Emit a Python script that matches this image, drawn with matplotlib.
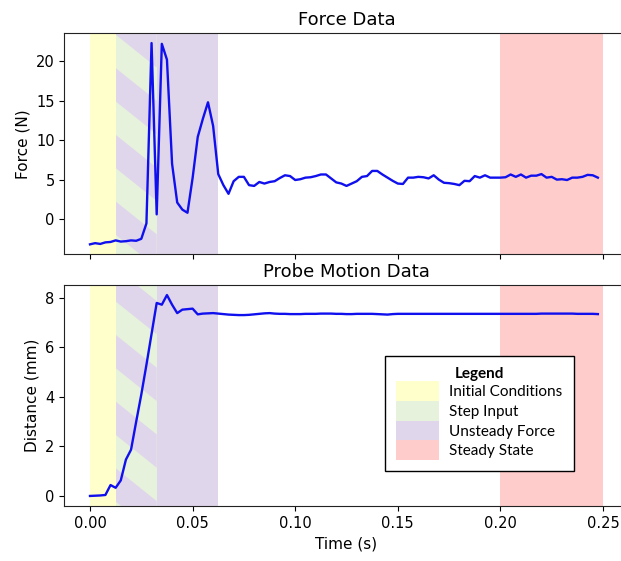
import numpy as np
import matplotlib
matplotlib.use("Agg")
import matplotlib.pyplot as plt
from matplotlib.patches import Patch, Polygon
from matplotlib.transforms import IdentityTransform

# ---------------- data ----------------
sample_interval = 0.0025  # s

force_n = [
    -3.2, -3.05, -3.15, -2.95, -2.9, -2.7, -2.85, -2.8, -2.7, -2.75,
    -2.5, -0.55, 22.3, 0.6, 22.2, 20.2, 7.0, 2.1, 1.2, 0.8,
    5.2, 10.4, 12.7, 14.8, 11.8, 5.7, 4.3, 3.2, 4.8, 5.35,
    5.35, 4.3, 4.2, 4.7, 4.5, 4.7, 4.8, 5.2, 5.55, 5.45,
    4.95, 5.05, 5.25, 5.3, 5.45, 5.65, 5.65, 5.15, 4.65, 4.5,
    4.2, 4.5, 4.8, 5.35, 5.45, 6.1, 6.1, 5.65, 5.25, 4.85,
    4.5, 4.45, 5.25, 5.25, 5.35, 5.3, 5.15, 5.55, 5.0, 4.6,
    4.55, 4.45, 4.3, 4.85, 4.8, 5.45, 5.25, 5.55, 5.25, 5.25,
    5.25, 5.3, 5.65, 5.35, 5.65, 5.25, 5.5, 5.5, 5.7, 5.25,
    5.35, 5.0, 5.05, 4.95, 5.25, 5.25, 5.35, 5.6, 5.55, 5.25,
]

distance_mm = [
    0.0, 0.01, 0.02, 0.04, 0.44, 0.33, 0.63, 1.47, 1.87, 3.0,
    4.1, 5.3, 6.55, 7.8, 7.73, 8.12, 7.73, 7.39, 7.53, 7.55,
    7.57, 7.34, 7.37, 7.38, 7.39, 7.37, 7.35, 7.33, 7.32, 7.31,
    7.31, 7.32, 7.34, 7.36, 7.38, 7.39, 7.37, 7.36, 7.36, 7.35,
    7.35, 7.35, 7.36, 7.36, 7.36, 7.37, 7.37, 7.37, 7.36, 7.36,
    7.35, 7.35, 7.36, 7.36, 7.36, 7.36, 7.35, 7.34, 7.33, 7.35,
    7.36, 7.36, 7.36, 7.36, 7.36, 7.36, 7.36, 7.36, 7.36, 7.36,
    7.36, 7.36, 7.36, 7.36, 7.36, 7.36, 7.36, 7.36, 7.36, 7.36,
    7.36, 7.36, 7.36, 7.36, 7.36, 7.36, 7.36, 7.36, 7.37, 7.37,
    7.37, 7.37, 7.37, 7.37, 7.37, 7.36, 7.36, 7.36, 7.36, 7.35,
]

time_s = np.arange(len(force_n)) * sample_interval

phase_names = ["Initial Conditions", "Step Input", "Unsteady Force", "Steady State"]
phase_start = [0.0, 0.0125, 0.0125, 0.20]
phase_end = [0.0125, 0.0325, 0.0625, 0.25]
phase_colors = ["#ffffcc", "#e6f2dc", "#e0d6ec", "#ffcccc"]

x_ticks = [0.00, 0.05, 0.10, 0.15, 0.20, 0.25]
x_limits = (-0.0125, 0.2625)

# ---------------- figure ----------------
W, H = 621, 561
fig = plt.figure(figsize=(W / 100, H / 100), dpi=100)

left = 64.35 / W
width = (628.65 - 64.35) / W
ax1 = fig.add_axes([left, 1 - 254.4 / H, width, 221.4 / H])
ax2 = fig.add_axes([left, 1 - 506 / H, width, 221 / H], sharex=ax1)

line_color = "#1010ee"


def stripes(ax, rect, x0, x1, color):
    """Diagonal bands (like a coarse hatch) over the step-input span."""
    xl = ax.transData.transform((x0, 0))[0]
    xr = ax.transData.transform((x1, 0))[0]
    period, band, slope = 66.7, 33.35, 0.8
    x_ref, y_ref = 116.0, 68.3
    for k in range(-12, 12):
        tl = y_ref + period * k + slope * (xl - x_ref)
        tr = y_ref + period * k + slope * (xr - x_ref)
        pts = [(xl, H - tl), (xr, H - tr), (xr, H - tr - band), (xl, H - tl - band)]
        poly = Polygon(pts, closed=True, transform=IdentityTransform(),
                       facecolor=color, edgecolor="none", zorder=1)
        ax.add_artist(poly)
        poly.set_clip_path(rect)


for ax, y, title, ylabel in [
    (ax1, force_n, "Force Data", "Force (N)"),
    (ax2, distance_mm, "Probe Motion Data", "Distance (mm)"),
]:
    ax.axvspan(phase_start[0], phase_end[0], color=phase_colors[0], lw=0, zorder=1)
    ax.axvspan(phase_start[2], phase_end[2], color=phase_colors[2], lw=0, zorder=1)
    green = ax.axvspan(phase_start[1], phase_end[1], color=phase_colors[1], lw=0, zorder=1)
    ax.axvspan(phase_start[3], phase_end[3], color=phase_colors[3], lw=0, zorder=1)
    ax.plot(time_s, y, color=line_color, lw=1.7, zorder=3)
    ax.set_xlim(*x_limits)
    ylim = ax.get_ylim()
    ax.set_ylim(*ylim)
    stripes(ax, green, phase_start[1], phase_end[1], phase_colors[2])
    ax.set_title(title, fontsize=13, pad=6)
    ax.set_ylabel(ylabel, fontsize=11)
    ax.tick_params(labelsize=10.5)
    for s in ax.spines.values():
        s.set_color("#222222")

ax1.set_xticks(x_ticks)
ax1.tick_params(labelbottom=False)
ax2.set_xticklabels([f"{t:.2f}" for t in x_ticks])
ax2.set_xlabel("Time (s)", fontsize=11)

handles = [Patch(facecolor=c, edgecolor="none") for c in phase_colors]
leg = ax2.legend(
    handles, phase_names, title="Legend",
    loc="upper left", bbox_to_anchor=((385 - 64.35) / 564.3, (506 - 356) / 221),
    borderaxespad=0, prop={"family": "Lato", "size": 11},
    title_fontproperties={"family": "Lato", "size": 11, "weight": "bold"},
    fancybox=False, framealpha=1, edgecolor="black",
    handlelength=2.8, handleheight=1.6, labelspacing=0.0,
    handletextpad=0.65, borderpad=0.75,
)
leg.get_frame().set_linewidth(1.0)

fig.savefig("out.png", dpi=100)
